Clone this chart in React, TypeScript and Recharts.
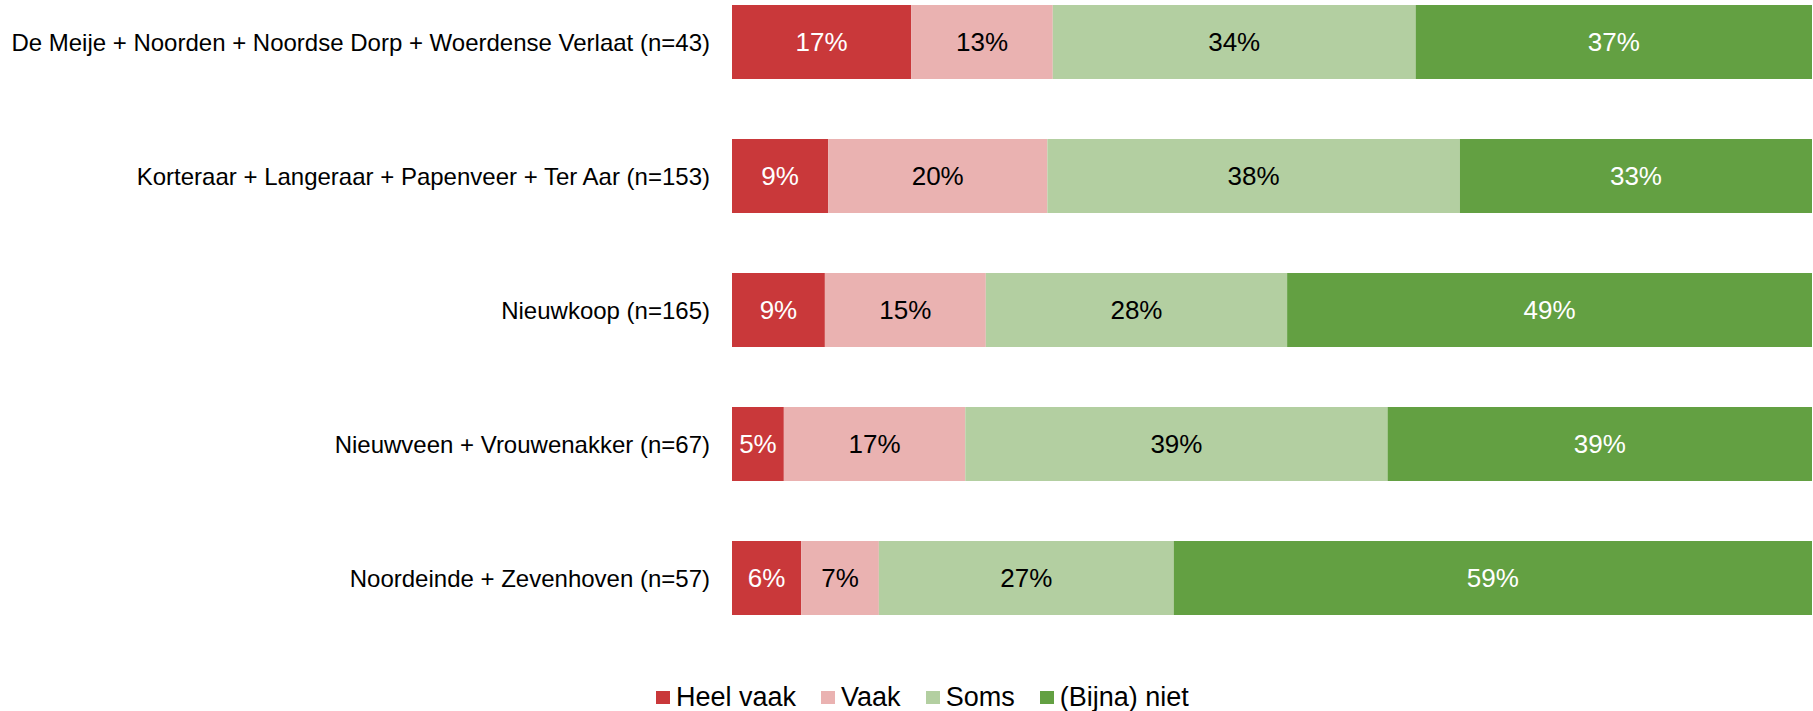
import React from 'react';
import { BarChart, Bar, XAxis, YAxis, Legend, LabelList } from 'recharts';

const categories = [
  'De Meije + Noorden + Noordse Dorp + Woerdense Verlaat (n=43)',
  'Korteraar + Langeraar + Papenveer + Ter Aar (n=153)',
  'Nieuwkoop (n=165)',
  'Nieuwveen + Vrouwenakker (n=67)',
  'Noordeinde + Zevenhoven (n=57)',
];
const heelVaak = [16.6, 8.9, 8.6, 4.8, 6.4];
const vaak = [13.1, 20.3, 14.9, 16.8, 7.2];
const soms = [33.6, 38.2, 27.9, 39.1, 27.3];
const bijnaNiet = [36.7, 32.6, 48.6, 39.3, 59.1];

const seriesKeys = ['heelVaak', 'vaak', 'soms', 'bijnaNiet'];
const seriesNames = ['Heel vaak', 'Vaak', 'Soms', '(Bijna) niet'];
const seriesColors = ['#C9383A', '#EAB2B1', '#B3CFA1', '#63A042'];
const labelColors = ['#FFFFFF', '#000000', '#000000', '#FFFFFF'];

const data = categories.map((name, i) => ({
  name,
  heelVaak: heelVaak[i],
  vaak: vaak[i],
  soms: soms[i],
  bijnaNiet: bijnaNiet[i],
}));

const FONT = '"Liberation Sans", Arial, sans-serif';

const LegendContent = () => (
  <div style={{ display: 'flex', alignItems: 'center', fontFamily: FONT, fontSize: 27, lineHeight: '26px', color: '#000', whiteSpace: 'nowrap' }}>
    {seriesNames.map((n, i) => (
      <div key={n} style={{ display: 'flex', alignItems: 'center', marginRight: i < seriesNames.length - 1 ? 25 : 0 }}>
        <span style={{ display: 'inline-block', width: 14, height: 13, background: seriesColors[i], marginRight: 6 }} />
        <span>{n}</span>
      </div>
    ))}
  </div>
);

export default function App() {
  return (
    <div style={{ position: 'absolute', left: 0, top: 0, width: 1813, height: 711, background: '#fff' }}>
      <BarChart
        width={1813}
        height={711}
        data={data}
        layout="vertical"
        margin={{ top: -25, right: 1, bottom: 66, left: 0 }}
      >
        <XAxis type="number" domain={[0, 100]} hide />
        <YAxis
          type="category"
          dataKey="name"
          width={732}
          axisLine={false}
          tickLine={false}
          tickSize={0}
          tickMargin={22}
          interval={0}
          tick={{ fill: '#000', fontSize: 24, fontFamily: FONT }}
        />
        {seriesKeys.map((k, i) => (
          <Bar key={k} dataKey={k} name={seriesNames[i]} stackId="a" fill={seriesColors[i]} barSize={74} isAnimationActive={false}>
            <LabelList
              dataKey={k}
              position="center"
              formatter={(v: number) => `${Math.round(v)}%`}
              style={{ fill: labelColors[i], fontSize: 26, fontFamily: FONT }}
            />
          </Bar>
        ))}
        <Legend
          layout="horizontal"
          verticalAlign="middle"
          align="center"
          wrapperStyle={{ position: 'absolute', top: 684, left: 656, width: 'auto', height: 'auto' }}
          content={<LegendContent />}
        />
      </BarChart>
    </div>
  );
}
